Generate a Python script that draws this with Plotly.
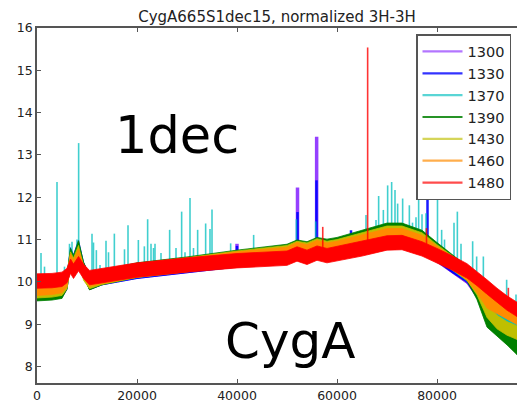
import numpy as np
import plotly.graph_objects as go

# ---------------- data ----------------
series_names = ["1300", "1330", "1370", "1390", "1430", "1460", "1480"]

x_grid = [0, 3000, 5000, 6000, 6700, 7300, 8300, 9300, 10500, 13000, 20000, 30000,
          40000, 50000, 52000, 54000, 56000, 58000, 60000, 65000, 70000, 73000,
          77000, 80000, 83000, 86000, 88000, 90000, 92000, 94000, 96000]

level_1300 = [9.74, 9.76, 9.8, 9.98, 10.6, 10.45, 10.75, 10.3, 9.98, 10.09, 10.24, 10.37,
              10.51, 10.62, 10.7, 10.66, 10.74, 10.7, 10.74, 10.86, 11.0, 11.0,
              10.86, 10.62, 10.38, 10.12, 9.78, 9.22, 8.96, 8.8, 8.68]
level_1330 = [9.74, 9.76, 9.8, 10.0, 10.65, 10.48, 10.83, 10.3, 9.98, 10.09, 10.24, 10.37,
              10.51, 10.62, 10.7, 10.66, 10.74, 10.7, 10.75, 10.88, 11.02, 11.02,
              10.88, 10.64, 10.38, 10.15, 9.8, 9.25, 8.98, 8.82, 8.72]
level_1370 = [9.78, 9.8, 9.84, 10.0, 10.6, 10.45, 10.78, 10.28, 10.0, 10.1, 10.26, 10.4,
              10.55, 10.68, 10.76, 10.72, 10.8, 10.76, 10.8, 10.96, 11.12, 11.12,
              10.96, 10.7, 10.44, 10.18, 9.85, 9.4, 9.15, 9.05, 8.95]
level_1390 = [9.72, 9.74, 9.78, 10.0, 10.62, 10.45, 10.8, 10.3, 9.98, 10.1, 10.28, 10.42,
              10.58, 10.72, 10.82, 10.78, 10.88, 10.84, 10.88, 11.05, 11.22, 11.22,
              11.05, 10.76, 10.48, 10.2, 9.75, 9.1, 8.88, 8.68, 8.45]
level_1430 = [9.78, 9.8, 9.84, 10.0, 10.55, 10.4, 10.7, 10.2, 10.0, 10.1, 10.27, 10.41,
              10.57, 10.7, 10.8, 10.76, 10.86, 10.8, 10.84, 11.0, 11.16, 11.16,
              11.0, 10.72, 10.47, 10.2, 9.85, 9.32, 9.05, 8.9, 8.8]
level_1460 = [9.84, 9.86, 9.9, 10.05, 10.5, 10.35, 10.62, 10.25, 10.05, 10.12, 10.27, 10.4,
              10.55, 10.66, 10.77, 10.72, 10.82, 10.76, 10.8, 10.95, 11.1, 11.1,
              10.94, 10.68, 10.45, 10.2, 9.9, 9.54, 9.4, 9.28, 9.15]
level_1480 = [10.02, 10.03, 10.06, 10.15, 10.37, 10.25, 10.43, 10.25, 10.1, 10.15, 10.28, 10.4,
              10.5, 10.56, 10.66, 10.58, 10.68, 10.62, 10.67, 10.78, 10.92, 10.93,
              10.78, 10.62, 10.45, 10.26, 10.08, 9.88, 9.68, 9.5, 9.35]

# noise half-spread of each spectrum
spread = {"1300": 0.16, "1330": 0.16, "1370": 0.16, "1390": 0.17,
          "1430": 0.16, "1460": 0.16, "1480": 0.17}

# narrow spikes: positions and peak heights
spike_x_1300 = [40000, 52100, 55930]
spike_y_1300 = [10.9, 12.23, 13.43]
spike_x_1330 = [40000, 52100, 55900, 62800, 78100]
spike_y_1330 = [10.85, 11.65, 12.4, 11.22, 12.8]
spike_x_1370 = [800, 1500, 4000, 5500, 6500, 7000, 8000, 8330, 11000, 11300, 11870, 12600,
                13800, 14300, 15470, 17500, 18200, 20270, 21470, 22130, 22800, 23300,
                23600, 24800, 26530, 27800, 28930, 29600, 30600, 31300, 32130, 33730,
                34600, 35000, 38730, 43330, 51870, 55730, 65800, 67000, 67800, 68330,
                69270, 70130, 70930, 71600, 72130, 73130, 74470, 75100, 75800, 76330,
                77000, 77800, 80100, 80930, 81500, 83400, 84070, 84800, 87130, 87930,
                89270, 93930, 95800]
spike_y_1370 = [10.68, 10.36, 12.36, 10.36, 10.9, 10.95, 11.0, 13.28, 11.14, 10.93, 10.75, 10.4,
                10.97, 10.7, 11.14, 10.77, 11.34, 10.99, 10.84, 11.48, 10.9, 10.8,
                10.9, 10.68, 11.23, 10.8, 11.66, 10.7, 11.98, 10.8, 11.23, 11.38,
                11.25, 11.71, 10.91, 11.11, 11.48, 11.43, 11.58, 11.2, 11.46, 12.03,
                11.7, 12.28, 12.36, 12.17, 11.85, 11.97, 11.81, 11.4, 11.53, 12.05,
                11.6, 11.62, 12.3, 11.23, 11.0, 11.4, 11.66, 10.9, 10.96, 10.6,
                10.6, 10.05, 9.7]
spike_x_1390 = []
spike_y_1390 = []
spike_x_1430 = []
spike_y_1430 = []
spike_x_1460 = []
spike_y_1460 = []
spike_x_1480 = [57150, 66130, 77900, 94270]
spike_y_1480 = [11.3, 15.54, 11.27, 9.86]

x_ticks = [0, 20000, 40000, 60000, 80000]
y_ticks = [8, 9, 10, 11, 12, 13, 14, 15, 16]

# ---------------- styling ----------------
levels = [level_1300, level_1330, level_1370, level_1390, level_1430, level_1460, level_1480]
spikes = [(spike_x_1300, spike_y_1300), (spike_x_1330, spike_y_1330), (spike_x_1370, spike_y_1370),
          (spike_x_1390, spike_y_1390), (spike_x_1430, spike_y_1430), (spike_x_1460, spike_y_1460),
          (spike_x_1480, spike_y_1480)]
band_colors = ["#8a2be2", "#0000ff", "#00bfbf", "#008000", "#bfbf00", "#ff8c00", "#ff0000"]
spike_colors = ["rgba(138,43,255,0.9)", "rgba(0,0,255,0.9)", "rgba(0,191,191,0.75)",
                "rgba(0,128,0,0.8)", "rgba(191,191,0,0.8)", "rgba(255,140,0,0.8)",
                "rgba(255,0,0,0.8)"]
legend_colors = ["rgba(138,43,255,0.65)", "rgba(0,0,255,0.8)", "rgba(0,191,191,0.65)",
                 "rgba(0,128,0,0.85)", "rgba(191,191,0,0.65)", "rgba(255,140,0,0.7)",
                 "rgba(255,0,0,0.7)"]
spike_widths = [3.5, 2.5, 1.6, 1.5, 1.5, 1.5, 1.6]
FONT = "DejaVu Sans"

fig = go.Figure()
xg = np.array(x_grid, dtype=float)
for name, lev, (sx, sy), bc, sc, sw in zip(series_names, levels, spikes, band_colors,
                                           spike_colors, spike_widths):
    lev = np.array(lev)
    h = spread[name]
    upper = lev + h
    lower = lev - h
    fig.add_trace(go.Scatter(
        x=list(xg) + list(xg[::-1]), y=list(upper) + list(lower[::-1]),
        fill="toself", fillcolor=bc, line=dict(width=0.8, color=bc),
        mode="lines", hoverinfo="skip", showlegend=False))
    if sx:
        base = np.interp(sx, xg, lev)
        px, py = [], []
        for xi, b, t in zip(sx, base, sy):
            px += [xi, xi, None]
            py += [b, t, None]
        fig.add_trace(go.Scatter(x=px, y=py, mode="lines",
                                 line=dict(color=sc, width=sw),
                                 showlegend=False, hoverinfo="skip"))

for name, lc in zip(series_names, legend_colors):
    fig.add_trace(go.Scatter(x=[None], y=[None], mode="lines", name=name,
                             line=dict(color=lc, width=2.2)))

axis_common = dict(showline=True, linecolor="#555555", linewidth=1.5, ticks="inside",
                   ticklen=4, tickwidth=1, tickcolor="#555555", showgrid=False,
                   zeroline=False, tickfont=dict(family=FONT, size=12.5, color="#222222"))

fig.update_layout(
    width=517, height=402,
    margin=dict(l=37, r=0, t=28, b=19),
    paper_bgcolor="white", plot_bgcolor="white",
    title=dict(text="CygA665S1dec15, normalized 3H-3H", x=(37 + 480 / 2) / 517,
               xanchor="center", y=1 - 17 / 402, yanchor="middle",
               font=dict(family=FONT, size=15, color="#222222")),
    xaxis=dict(range=[0, 96000], tickvals=x_ticks, ticktext=[str(v) for v in x_ticks],
               mirror="ticks", **axis_common),
    yaxis=dict(range=[7.61, 16], tickvals=y_ticks, ticktext=[str(v) for v in y_ticks],
               mirror=False, **axis_common),
    legend=dict(x=(511 - 37) / 480, y=1 - (34 - 28) / 355, xanchor="right", yanchor="top",
                bgcolor="white", bordercolor="#555555", borderwidth=1.5,
                font=dict(family=FONT, size=14.5, color="#222222"), itemwidth=40),
    showlegend=True,
)

fig.add_annotation(text="1dec", x=28000, y=13.45, xref="x", yref="y", showarrow=False,
                   font=dict(family=FONT, size=51, color="black"),
                   xanchor="center", yanchor="middle")
fig.add_annotation(text="CygA", x=50600, y=8.6, xref="x", yref="y", showarrow=False,
                   font=dict(family=FONT, size=50, color="black"),
                   xanchor="center", yanchor="middle")

fig.write_html("out.html")
